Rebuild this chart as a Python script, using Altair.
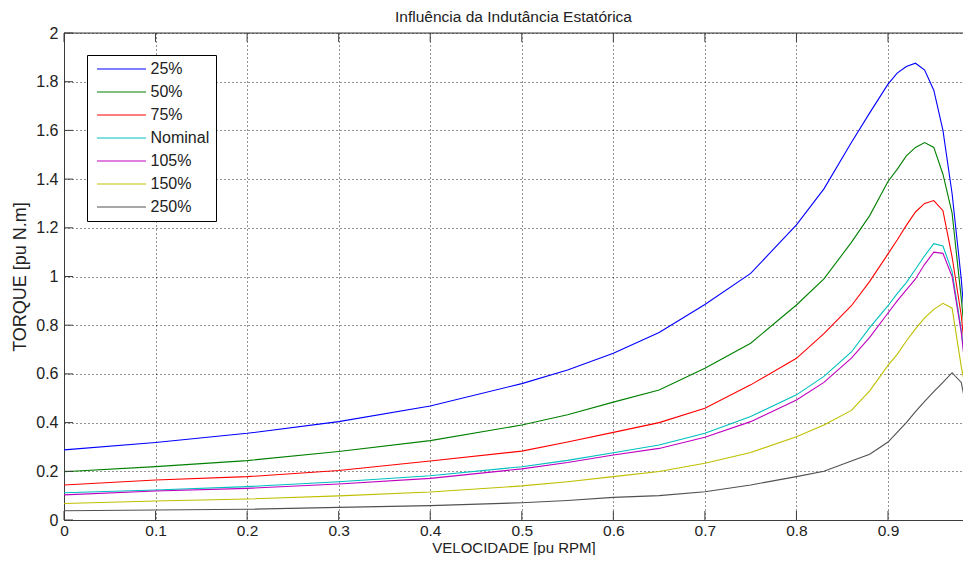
import altair as alt
import pandas as pd

# ---- data ----
speed = [0, 0.1, 0.2, 0.3, 0.4, 0.5, 0.55, 0.6, 0.65, 0.7, 0.75, 0.8, 0.83,
         0.86, 0.88, 0.9, 0.91, 0.92, 0.93, 0.94, 0.95, 0.96, 0.97, 0.98, 0.99]

series_names = ["25%", "50%", "75%", "Nominal", "105%", "150%", "250%"]
series_colors = ["#0000ff", "#008000", "#ff0000", "#00bfbf", "#bf00bf", "#bfbf00", "#505050"]

t25 = [0.288, 0.318, 0.356, 0.404, 0.468, 0.560, 0.616, 0.685, 0.770, 0.885, 1.013, 1.212, 1.36,
       1.55, 1.672, 1.79, 1.835, 1.862, 1.876, 1.848, 1.765, 1.60, 1.34, 0.99, 0.53]
t50 = [0.198, 0.219, 0.244, 0.281, 0.326, 0.390, 0.432, 0.484, 0.534, 0.623, 0.726, 0.883, 0.99,
       1.14, 1.25, 1.39, 1.44, 1.495, 1.53, 1.550, 1.530, 1.42, 1.26, 0.91, 0.52]
t75 = [0.144, 0.164, 0.178, 0.203, 0.242, 0.283, 0.320, 0.360, 0.400, 0.459, 0.555, 0.664, 0.765,
       0.88, 0.98, 1.093, 1.15, 1.21, 1.265, 1.30, 1.312, 1.27, 1.08, 0.84, 0.47]
tnom = [0.112, 0.123, 0.137, 0.157, 0.182, 0.219, 0.245, 0.276, 0.308, 0.356, 0.425, 0.514, 0.59,
        0.69, 0.79, 0.88, 0.93, 0.975, 1.03, 1.085, 1.135, 1.125, 1.02, 0.78, 0.45]
t105 = [0.103, 0.119, 0.130, 0.148, 0.171, 0.210, 0.236, 0.267, 0.294, 0.340, 0.404, 0.493, 0.565,
        0.665, 0.75, 0.85, 0.90, 0.945, 0.99, 1.05, 1.10, 1.095, 1.00, 0.77, 0.44]
t150 = [0.068, 0.078, 0.086, 0.099, 0.115, 0.140, 0.157, 0.178, 0.199, 0.233, 0.277, 0.342, 0.39,
        0.45, 0.53, 0.635, 0.68, 0.735, 0.785, 0.83, 0.865, 0.89, 0.87, 0.63, 0.44]
t250 = [0.038, 0.041, 0.044, 0.052, 0.059, 0.071, 0.080, 0.093, 0.100, 0.116, 0.144, 0.178, 0.20,
        0.242, 0.27, 0.32, 0.36, 0.40, 0.445, 0.487, 0.527, 0.565, 0.605, 0.565, 0.37]

x_ticks = [0, 0.1, 0.2, 0.3, 0.4, 0.5, 0.6, 0.7, 0.8, 0.9]
y_ticks = [0, 0.2, 0.4, 0.6, 0.8, 1.0, 1.2, 1.4, 1.6, 1.8, 2.0]
x_view = [0, 0.9819]   # visible part of the speed axis (the figure is cut at the right)

rows = []
for name, vals in zip(series_names, [t25, t50, t75, tnom, t105, t150, t250]):
    for s, v in zip(speed, vals):
        rows.append({"speed": s, "torque": v, "serie": name})
df = pd.DataFrame(rows)
xt = pd.DataFrame({"t": x_ticks})
yt = pd.DataFrame({"t": y_ticks})
frame = pd.DataFrame({"a": [x_view[0]], "b": [x_view[1]], "top": [y_ticks[-1]]})

W, H = 899, 487
FONT = "Liberation Sans"
AX = "#3c3c3c"
TXT = "#222222"
TL = 9

xscale = alt.Scale(domain=x_view, nice=False, zero=False)
yscale = alt.Scale(domain=[0, 2], nice=False, zero=False)

lines = alt.Chart(df).mark_line(strokeWidth=1.1, clip=True).encode(
    x=alt.X("speed:Q", scale=xscale,
            axis=alt.Axis(orient="bottom", values=x_ticks, format="~g", grid=True,
                          gridColor="black", gridDash=[1, 3], gridOpacity=0.85, gridWidth=1,
                          ticks=False, domainColor=AX, domainWidth=1, labelFont=FONT,
                          labelFontSize=15.5, labelColor=TXT, labelPadding=3, labelFlush=False,
                          labelOverlap=False, title="VELOCIDADE [pu RPM]", titleFont=FONT,
                          titleFontSize=15, titleFontWeight="normal", titleColor=TXT,
                          titleY=27, titleBaseline="middle")),
    y=alt.Y("torque:Q", scale=yscale,
            axis=alt.Axis(orient="left", values=y_ticks, format="~g", grid=True,
                          gridColor="black", gridDash=[1, 3], gridOpacity=0.85, gridWidth=1,
                          ticks=False, domainColor=AX, domainWidth=1, labelFont=FONT,
                          labelFontSize=16, labelColor=TXT, labelPadding=6, labelFlush=False,
                          labelOverlap=False, title="TORQUE [pu N.m]", titleFont=FONT,
                          titleFontSize=18, titleFontWeight="normal", titleColor=TXT,
                          titleX=-44, titleBaseline="middle")),
    color=alt.Color("serie:N", scale=alt.Scale(domain=series_names, range=series_colors),
                    legend=alt.Legend(
                        title=None, orient="none", legendX=23, legendY=22, padding=6,
                        symbolType="M-5,0H5", symbolSize=96, symbolStrokeWidth=1.2,
                        symbolOffset=20.5, labelOffset=21, rowPadding=7,
                        strokeColor="black", fillColor="white", cornerRadius=0,
                        labelFont=FONT, labelFontSize=16, labelColor=TXT)),
)

bottom_ticks = alt.Chart(xt).mark_rule(color=AX, strokeWidth=1).encode(
    x=alt.X("t:Q", scale=xscale, axis=None), y=alt.value(H), y2=alt.value(H - TL))

top_ticks = alt.Chart(xt).mark_rule(color=AX, strokeWidth=1).encode(
    x=alt.X("t:Q", scale=xscale, axis=None), y=alt.value(0), y2=alt.value(TL))

left_ticks = alt.Chart(yt).mark_rule(color=AX, strokeWidth=1).encode(
    y=alt.Y("t:Q", scale=yscale, axis=None), x=alt.value(0), x2=alt.value(TL))

top_border = alt.Chart(frame).mark_rule(color=AX, strokeWidth=1).encode(
    x=alt.X("a:Q", scale=xscale, axis=None), x2="b:Q",
    y=alt.Y("top:Q", scale=yscale, axis=None))

chart = alt.layer(lines, bottom_ticks, top_ticks, left_ticks, top_border).resolve_axis(
    x="independent", y="independent"
).properties(
    width=W, height=H,
    autosize=alt.AutoSizeParams(type="none"),
    padding={"left": 56, "top": 25, "right": 0, "bottom": 35},
    title=alt.Title("Influência da Indutância Estatórica", font=FONT, fontSize=15.5,
                    fontWeight="normal", color=TXT, anchor="middle", frame="group", offset=0),
).configure_view(strokeWidth=0).configure(background="white")

chart.save("out.html", embed_options={"renderer": "svg", "actions": False})
